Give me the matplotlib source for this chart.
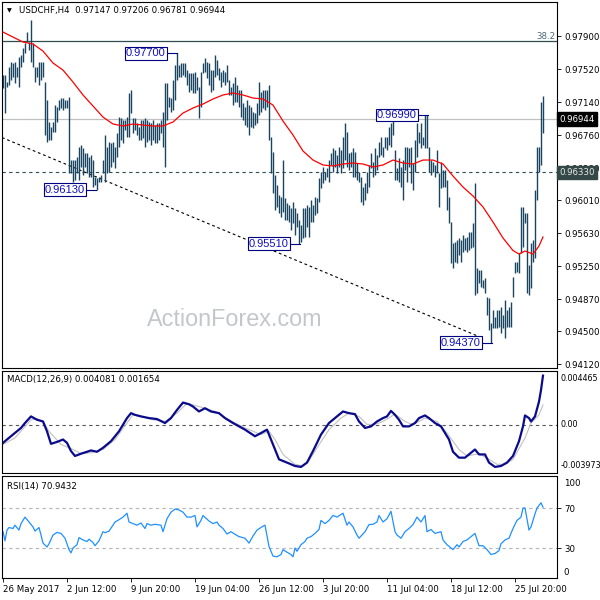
import numpy as np
import matplotlib
matplotlib.use("Agg")
import matplotlib.pyplot as plt
from matplotlib.transforms import blended_transform_factory as blend

# H4 bars, highs / lows in 1e-4 units (0.9745 -> 9745)
bar_high = [
    9745, 9745, 9737, 9754, 9760, 9759, 9760, 9754, 9766, 9768,
    9776, 9782, 9795, 9783, 9808, 9782, 9754, 9754, 9760, 9760,
    9760, 9737, 9716, 9691, 9685, 9691, 9711, 9708, 9716, 9719,
    9719, 9716, 9716, 9720, 9647, 9647, 9647, 9651, 9662, 9665,
    9661, 9655, 9655, 9651, 9653, 9647, 9628, 9627, 9628, 9630,
    9647, 9676, 9662, 9668, 9667, 9668, 9662, 9678, 9697, 9696,
    9693, 9693, 9697, 9724, 9728, 9696, 9696, 9690, 9685, 9693,
    9693, 9696, 9693, 9691, 9690, 9693, 9688, 9690, 9690, 9693,
    9703, 9736, 9736, 9720, 9719, 9739, 9757, 9770, 9757, 9759,
    9759, 9759, 9751, 9747, 9747, 9747, 9749, 9743, 9731, 9749,
    9759, 9765, 9760, 9759, 9751, 9751, 9768, 9762, 9753, 9749,
    9751, 9749, 9757, 9739, 9731, 9736, 9743, 9734, 9728, 9728,
    9713, 9708, 9716, 9711, 9708, 9703, 9701, 9713, 9737, 9726,
    9728, 9728, 9728, 9734, 9674, 9656, 9630, 9618, 9607, 9605,
    9647, 9603, 9598, 9595, 9592, 9599, 9592, 9586, 9578, 9572,
    9592, 9592, 9595, 9593, 9601, 9595, 9605, 9603, 9627, 9633,
    9639, 9633, 9638, 9647, 9655, 9661, 9659, 9653, 9662, 9659,
    9674, 9690, 9680, 9655, 9656, 9661, 9656, 9644, 9633, 9628,
    9616, 9621, 9633, 9642, 9655, 9645, 9661, 9653, 9668, 9674,
    9662, 9674, 9674, 9685, 9690, 9699, 9659, 9638, 9650, 9639,
    9647, 9662, 9662, 9661, 9662, 9644, 9670, 9690, 9680, 9690,
    9674, 9699, 9699, 9662, 9647, 9645, 9642, 9659, 9632, 9645,
    9636, 9636, 9624, 9605, 9576, 9552, 9553, 9555, 9557, 9555,
    9561, 9557, 9559, 9564, 9564, 9575, 9621, 9523, 9521, 9521,
    9509, 9511, 9490, 9488, 9460, 9475, 9466, 9475, 9475, 9478,
    9469, 9486, 9475, 9478, 9484, 9513, 9530, 9530, 9540, 9593,
    9593, 9586, 9586, 9526, 9552, 9555, 9613, 9662, 9662, 9714,
    9721,
]
bar_low = [
    9730, 9701, 9731, 9734, 9739, 9743, 9736, 9743, 9731, 9754,
    9760, 9770, 9783, 9774, 9760, 9754, 9737, 9743, 9734, 9739,
    9743, 9676, 9668, 9670, 9670, 9680, 9680, 9691, 9705, 9707,
    9705, 9707, 9707, 9632, 9632, 9622, 9624, 9632, 9624, 9639,
    9630, 9639, 9632, 9628, 9628, 9616, 9618, 9613, 9622, 9622,
    9632, 9622, 9632, 9633, 9639, 9645, 9638, 9651, 9662, 9670,
    9667, 9682, 9674, 9674, 9701, 9678, 9682, 9676, 9670, 9670,
    9673, 9662, 9668, 9670, 9665, 9670, 9667, 9667, 9670, 9678,
    9662, 9639, 9693, 9708, 9703, 9705, 9716, 9739, 9743, 9743,
    9745, 9743, 9734, 9726, 9728, 9724, 9724, 9728, 9696, 9708,
    9747, 9749, 9742, 9734, 9726, 9728, 9743, 9745, 9739, 9731,
    9737, 9734, 9737, 9722, 9722, 9711, 9714, 9714, 9708, 9697,
    9693, 9688, 9685, 9676, 9685, 9684, 9688, 9690, 9699, 9703,
    9707, 9705, 9708, 9670, 9632, 9609, 9590, 9593, 9586, 9582,
    9587, 9578, 9578, 9576, 9567, 9575, 9561, 9570, 9551, 9553,
    9557, 9559, 9570, 9559, 9576, 9576, 9584, 9586, 9599, 9615,
    9621, 9624, 9628, 9622, 9642, 9633, 9639, 9632, 9639, 9632,
    9638, 9647, 9639, 9636, 9639, 9628, 9628, 9624, 9622, 9599,
    9595, 9601, 9609, 9616, 9638, 9628, 9630, 9636, 9651, 9653,
    9651, 9661, 9659, 9665, 9662, 9676, 9624, 9624, 9622, 9616,
    9601, 9636, 9622, 9639, 9621, 9613, 9633, 9651, 9667, 9661,
    9665, 9661, 9661, 9633, 9630, 9633, 9628, 9632, 9593, 9615,
    9616, 9616, 9590, 9575, 9529, 9523, 9530, 9529, 9538, 9530,
    9541, 9544, 9541, 9544, 9546, 9547, 9492, 9494, 9506, 9501,
    9500, 9494, 9469, 9452, 9437, 9454, 9454, 9454, 9455, 9448,
    9454, 9442, 9455, 9455, 9455, 9490, 9517, 9518, 9517, 9540,
    9547, 9575, 9494, 9492, 9500, 9530, 9534, 9601, 9633, 9642,
    9678,
]

# moving average (red), 1e-4 units
ma_idx = [0, 5, 10, 15, 20, 25, 30, 35, 40, 45, 50, 55, 60, 65, 70, 75, 80, 85,
          90, 95, 100, 105, 110, 115, 120, 125, 130, 135, 140, 145, 150, 155, 160,
          165, 170, 175, 180, 185, 190, 195, 200, 205, 210, 215, 220, 225, 230,
          235, 240, 245, 250, 255, 258, 261, 265, 268, 270]
ma_val = [9794.6, 9788.8, 9783.1, 9780.8, 9772.7, 9758.9, 9750.8, 9737.0, 9722.1,
          9709.4, 9696.7, 9688.7, 9686.4, 9688.7, 9687.5, 9686.4, 9686.4, 9691.0,
          9701.3, 9707.1, 9711.7, 9717.5, 9722.1, 9724.4, 9722.1, 9718.6, 9717.5,
          9710.5, 9692.1, 9676.0, 9657.6, 9647.2, 9641.5, 9640.3, 9642.6, 9643.8,
          9642.6, 9639.2, 9641.5, 9647.2, 9643.8, 9642.6, 9647.2, 9647.2, 9642.6,
          9628.8, 9616.1, 9605.8, 9593.1, 9575.8, 9557.4, 9543.0, 9539.0, 9542.4,
          9538.9, 9548.2, 9558.6]

# MACD main line and signal, 1e-4 units
macd_idx = [0, 2, 6, 9, 11, 14, 17, 20, 22, 24, 27, 30, 32, 34, 36, 39, 42, 44, 47,
            50, 54, 58, 62, 64, 66, 69, 73, 77, 81, 84, 87, 90, 93, 95, 98, 101, 104,
            108, 111, 115, 121, 126, 129, 132, 133, 135, 138, 142, 146, 149, 152, 155,
            159, 163, 167, 170, 173, 176, 178, 181, 184, 187, 190, 192, 194, 196, 198,
            200, 203, 206, 208, 211, 213, 216, 219, 220, 223, 225, 228, 231, 234, 236,
            238, 241, 243, 246, 249, 252, 255, 258, 260, 261, 263, 264, 266, 268, 269,
            270]
macd_val = [-15.1, -12.3, -6.8, -2.7, 1.4, 6.9, 4.1, 2.7, -5.5, -15.9, -14.3, -12.3,
            -15.1, -21.9, -26.0, -24.1, -22.5, -21.4, -22.5, -19.2, -13.7, -5.5, 5.5,
            9.6, 8.2, 6.9, 5.5, 4.7, 1.4, 5.5, 12.3, 18.4, 17.0, 15.1, 11.0, 13.7,
            11.0, 9.6, 5.5, 1.4, -4.1, -9.6, -6.9, -4.1, -8.2, -16.4, -28.8, -31.5,
            -34.3, -35.1, -31.5, -21.9, -8.2, 1.4, 6.9, 11.0, 9.6, 8.8, 2.7, -2.7,
            -1.4, 2.7, 5.5, 6.9, 11.5, 8.2, 4.1, -1.4, -1.4, 1.4, 5.5, 7.7, 5.5, 1.4,
            -1.4, -4.1, -12.3, -22.5, -27.4, -27.4, -23.3, -20.6, -24.7, -24.7, -31.5,
            -35.1, -34.3, -31.5, -26.0, -13.7, -1.4, 7.7, 5.5, 2.7, 6.9, 19.2, 28.8,
            40.8]
sig_idx = [0, 6, 14, 17, 20, 23, 29, 35, 39, 44, 50, 56, 62, 65, 69, 75, 81, 87, 92,
           98, 106, 113, 121, 129, 133, 136, 140, 146, 150, 153, 157, 163, 169, 173,
           178, 182, 186, 190, 196, 201, 205, 211, 217, 222, 228, 232, 238, 243, 247,
           251, 255, 261, 264, 268, 270]
sig_val = [-16.4, -11.0, 4.1, 5.0, 2.7, -5.5, -16.4, -20.6, -24.1, -23.3, -20.6,
           -12.3, 1.4, 8.2, 6.9, 4.1, 2.7, 9.6, 17.8, 15.1, 11.0, 4.1, -2.7, -8.2,
           -5.5, -12.3, -24.7, -32.9, -34.3, -30.1, -19.2, -4.1, 5.5, 9.6, 6.9, 0.3,
           0.3, 2.7, 8.8, 2.7, 0.0, 5.5, 2.7, -6.9, -20.6, -26.0, -24.1, -28.8, -32.9,
           -32.9, -28.8, -11.0, 1.4, 8.2, 16.5]

# RSI(14)
rsi_idx = [0, 1, 2, 3, 5, 6, 8, 9, 11, 13, 15, 16, 18, 19, 20, 22, 23, 25, 27, 29,
           31, 33, 34, 35, 37, 38, 40, 42, 43, 45, 46, 48, 50, 51, 53, 55, 56, 58, 60,
           62, 63, 65, 67, 69, 71, 72, 74, 76, 79, 80, 82, 84, 86, 88, 90, 92, 94, 96,
           97, 99, 100, 103, 105, 107, 108, 110, 112, 114, 116, 118, 121, 123, 125,
           127, 130, 131, 133, 135, 137, 139, 140, 142, 144, 145, 146, 147, 149, 151,
           152, 154, 156, 158, 159, 161, 163, 165, 167, 170, 172, 173, 175, 177, 178,
           181, 183, 185, 187, 188, 190, 192, 194, 196, 197, 199, 201, 203, 205, 207,
           209, 211, 212, 214, 216, 219, 220, 222, 225, 227, 228, 230, 232, 235, 236,
           238, 240, 242, 244, 246, 248, 249, 251, 253, 255, 257, 259, 260, 261, 263,
           264, 266, 267, 269, 270]
rsi_val = [46.3, 37.2, 47.9, 50.5, 49.5, 52.8, 47.9, 54.4, 60.9, 56.0, 51.1, 46.9,
           50.5, 43.0, 34.9, 31.0, 34.2, 43.0, 45.6, 44.6, 39.8, 28.4, 25.1, 30.0,
           33.3, 40.4, 38.1, 36.5, 38.8, 35.5, 32.3, 37.2, 46.3, 45.3, 46.9, 52.8,
           56.0, 58.3, 60.9, 64.8, 56.0, 54.4, 52.8, 55.0, 49.5, 54.4, 52.8, 53.7,
           52.8, 46.3, 59.3, 65.8, 69.0, 68.0, 65.8, 60.9, 60.9, 62.5, 51.1, 57.6,
           62.5, 57.0, 54.4, 56.0, 52.8, 49.5, 44.0, 46.3, 43.7, 41.4, 39.8, 34.9,
           42.0, 47.9, 51.8, 52.8, 31.6, 21.9, 21.2, 23.5, 28.4, 25.8, 23.5, 21.2,
           30.0, 26.7, 33.3, 36.5, 39.8, 41.4, 44.6, 48.5, 57.6, 54.4, 57.6, 62.5,
           60.9, 64.8, 52.8, 56.0, 51.1, 43.0, 39.8, 46.3, 53.4, 53.7, 56.0, 62.5,
           56.0, 59.3, 66.7, 46.3, 43.0, 39.8, 46.3, 49.5, 53.4, 60.9, 56.0, 62.5,
           46.3, 48.5, 44.6, 46.3, 38.1, 33.3, 28.4, 33.3, 31.0, 36.5, 38.1, 43.0,
           44.6, 32.3, 32.3, 28.4, 23.5, 24.5, 27.4, 34.2, 38.1, 39.8, 49.5, 57.6,
           60.9, 70.0, 70.0, 47.9, 51.1, 64.1, 70.0, 75.2, 70.9]

price_ticks = [0.97900, 0.97520, 0.97140, 0.96760, 0.96380, 0.96010, 0.95630,
               0.95250, 0.94870, 0.94500, 0.94120]
date_idx = [0, 32, 64, 96, 128, 160, 192, 224, 256]
date_labels = ["26 May 2017", "2 Jun 12:00", "9 Jun 20:00", "19 Jun 04:00",
               "26 Jun 12:00", "3 Jul 20:00", "11 Jul 04:00", "18 Jul 12:00",
               "25 Jul 20:00"]

swing_idx = [87, 46.5, 148.5, 212.5, 244.5]
swing_val = [0.97700, 0.96130, 0.95510, 0.96990, 0.94370]

last_ohlc = [0.97147, 0.97206, 0.96781, 0.96944]
fib_level = 0.97843
support_level = 0.96330
trend_idx = [-0.5, 238.5]
trend_val = [0.96731, 0.94434]
macd_last = [0.004081, 0.001654]
macd_range = [-0.003973, 0.004465]
rsi_last = 70.9432

# ---------------------------------------------------------------
plt.rcParams["font.family"] = ["DejaVu Sans"]
FS = 6.2
BAR = "#1a4560"

fig = plt.figure(figsize=(6, 6), dpi=100)
ax = fig.add_axes([2 / 600, 232 / 600, 555 / 600, 366 / 600])
axm = fig.add_axes([2 / 600, 127.5 / 600, 555 / 600, 101.5 / 600])
axr = fig.add_axes([2 / 600, 22 / 600, 555 / 600, 102 / 600])

idx = np.arange(len(bar_high))
hi = np.array(bar_high) / 1e4
lo = np.array(bar_low) / 1e4

for a in (ax, axm, axr):
    a.set_xlim(-0.5, 277)
    for s in a.spines.values():
        s.set_linewidth(0.8)
        s.set_color("black")
    a.yaxis.tick_right()
    a.tick_params(axis="y", length=3, width=0.6, labelsize=FS, pad=2)
    a.tick_params(axis="x", length=0, labelbottom=False)

# ---- main price panel ----
ax.set_ylim(0.94077, 0.98292)
ax.vlines(idx, lo, hi, color=BAR, lw=1.0, zorder=2)
ax.plot(ma_idx, np.array(ma_val) / 1e4, color="red", lw=0.9, zorder=3)

ax.axhline(fib_level, color="#2f4f4f", lw=0.9, zorder=1)
ax.axhline(last_ohlc[3], color="#c0c0c0", lw=0.9, zorder=1)
ax.axhline(support_level, color="#2f4f4f", lw=0.8, ls=(0, (3, 3)), zorder=1)
ax.plot(trend_idx, trend_val, color="black", lw=0.8, ls=(0, (2.5, 2.5)), zorder=1)

tr = blend(ax.transAxes, ax.transData)
ax.text(0.997, fib_level + 0.00003, "38.2", transform=tr, ha="right", va="bottom",
        fontsize=FS, color="#4a6878")

ax.set_yticks(price_ticks)
ax.set_yticklabels(["%.5f" % v for v in price_ticks])

ax.text(1.004, support_level, "%.5f" % support_level, transform=tr, ha="left",
        va="center", fontsize=FS, color="#e8e8e8", clip_on=False, zorder=5,
        bbox=dict(boxstyle="square,pad=0.25", fc="#344848", ec="#344848"))
ax.text(1.004, last_ohlc[3], "%.5f" % last_ohlc[3], transform=tr, ha="left",
        va="center", fontsize=FS, color="white", clip_on=False, zorder=5,
        bbox=dict(boxstyle="square,pad=0.25", fc="black", ec="black"))

for i, v in zip(swing_idx, swing_val):
    ax.plot([i - 15.5, i], [v, v], color="#000080", lw=0.8, zorder=4)
    ax.text(i - 15.5, v, "%.5f" % v, ha="center", va="center", fontsize=8,
            family="Liberation Sans", color="#1010c0", zorder=5,
            bbox=dict(boxstyle="square,pad=0.12", fc="white", ec="#000080", lw=0.8))

fig.text(235 / 600, 1 - 319 / 600, "ActionForex.com", ha="center", va="center",
         fontsize=16.8, family="Liberation Sans", color="#c3c7cb")

fig.text(7 / 600, 1 - 11 / 600, "\u25bc", fontsize=4.5, va="center", color="black")
fig.text(19 / 600, 1 - 11 / 600, "USDCHF,H4  " + " ".join("%.5f" % v for v in last_ohlc),
         fontsize=FS, va="center", color="black")

# ---- MACD panel ----
axm.set_ylim(macd_range[0], macd_range[1])
axm.axhline(0, color="#555555", lw=0.8, ls=(0, (3, 3)))
axm.plot(sig_idx, np.array(sig_val) / 1e4, color="#c0c0c0", lw=0.8)
axm.plot(macd_idx, np.array(macd_val) / 1e4, color="#0a0a8c", lw=1.6)
axm.set_yticks([])
trm = blend(axm.transAxes, axm.transAxes)
axm.text(1.007, 0.93, "%.6f" % macd_range[1], transform=trm, ha="left", va="center",
         fontsize=5.8)
axm.text(1.007, 0.468, "0.00", transform=trm, ha="left", va="center", fontsize=5.8)
axm.text(1.007, 0.065, "%.6f" % macd_range[0], transform=trm, ha="left", va="center",
         fontsize=5.8)
axm.text(0.009, 0.915, "MACD(12,26,9) %.6f %.6f" % tuple(macd_last),
         transform=axm.transAxes, ha="left", va="center", fontsize=FS)

# ---- RSI panel ----
axr.set_ylim(0, 102)
for lvl in (70, 30):
    axr.axhline(lvl, color="#b4b4b4", lw=0.8, ls=(0, (3, 3)))
axr.plot(rsi_idx, rsi_val, color="#1e90ff", lw=0.9)
axr.set_yticks([70, 30])
axr.set_yticklabels(["70", "30"])
trr = blend(axr.transAxes, axr.transAxes)
axr.text(1.012, 0.93, "100", transform=trr, ha="left", va="center", fontsize=FS)
axr.text(1.012, 0.05, "0", transform=trr, ha="left", va="center", fontsize=FS)
axr.text(0.009, 0.9, "RSI(14) %.4f" % rsi_last, transform=axr.transAxes,
         ha="left", va="center", fontsize=FS)

axr.set_xticks(date_idx)
axr.set_xticklabels(date_labels)
axr.tick_params(axis="x", length=3, width=0.6, labelbottom=True, labelsize=FS, pad=2)
for t in axr.get_xticklabels():
    t.set_ha("left")

fig.savefig("out.png", dpi=100)
